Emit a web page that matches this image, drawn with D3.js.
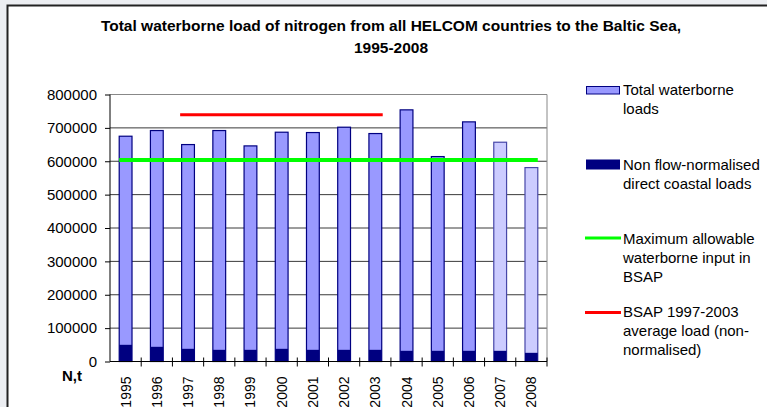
<!DOCTYPE html>
<html>
<head>
<meta charset="utf-8">
<script src="https://cdn.jsdelivr.net/npm/d3@7"></script>
<style>
  body { margin: 0; padding: 0; background: #eceef2; }
  svg { display: block; font-family: "Liberation Sans", Arial, sans-serif; }
</style>
</head>
<body>
<svg id="chart"></svg>
<script>
// data
let years = [1995,1996,1997,1998,1999,2000,2001,2002,2003,2004,2005,2006,2007,2008];
let totalLoads = [675000,692000,650000,692000,646000,687000,686000,702000,683000,754000,614000,718000,657000,581000];
let coastalLoads = [50000,44000,38000,35000,35000,38000,35000,35000,35000,32000,32000,32000,32000,26000];
let lightYears = [2007,2008];
let maxAllowable = 604000;
let bsapAverage = 739000;
let bsapYears = [1997,2003];
let yTicks = [0,100000,200000,300000,400000,500000,600000,700000,800000];
let titleLines = ["Total waterborne load of nitrogen from all HELCOM countries to the Baltic Sea,", "1995-2008"];

function getConfig(){
    let width = 767;
    let height = 407;
    let margin = { top: 94.5, left: 110, right: 220, bottom: 45.5 };
    let container = d3.select("#chart")
        .attr("width", width)
        .attr("height", height);
    return { width, height, margin, container };
}

function getScales(cfg){
    let { width, height, margin } = cfg;
    let xScale = d3.scaleBand()
        .domain(years)
        .range([margin.left, width - margin.right])
        .padding(0);
    let yScale = d3.scaleLinear()
        .domain([0, 800000])
        .range([height - margin.bottom, margin.top]);
    return { xScale, yScale };
}

function drawFrame(cfg){
    let { container, width, height } = cfg;
    container.append("rect")
        .attr("x", 0).attr("y", 0)
        .attr("width", width).attr("height", height)
        .attr("fill", "#eceef2");
    container.append("rect")
        .attr("x", 7.5).attr("y", 5.5)
        .attr("width", width + 10).attr("height", height + 10)
        .attr("fill", "#ffffff")
        .attr("stroke", "#222")
        .attr("stroke-width", 2);
    container.selectAll(".title")
        .data(titleLines)
        .enter().append("text")
        .attr("class", "title")
        .attr("x", 391)
        .attr("y", (d, i) => 31 + i * 22)
        .attr("text-anchor", "middle")
        .style("font-size", "15.5px")
        .style("font-weight", "bold")
        .text(d => d);
}

function drawGrid(scales, cfg){
    let { xScale, yScale } = scales;
    let { container } = cfg;
    let x0 = xScale.range()[0], x1 = xScale.range()[1];
    container.append("g")
        .selectAll("line")
        .data(yTicks.filter(d => d > 0))
        .enter().append("line")
        .attr("x1", x0).attr("x2", x1)
        .attr("y1", d => yScale(d)).attr("y2", d => yScale(d))
        .attr("stroke", d => d == 800000 ? "#888" : "#3a3a3a")
        .attr("stroke-width", 1);
    // right border of plot area
    container.append("line")
        .attr("x1", x1).attr("x2", x1)
        .attr("y1", yScale(800000)).attr("y2", yScale(0))
        .attr("stroke", "#888");
}

function drawBars(scales){
    let { xScale, yScale } = scales;
    let container = d3.select("#chart");
    let barW = xScale.bandwidth() * 0.41;
    let off = (xScale.bandwidth() - barW) / 2;
    let rows = years.map((y, i) => ({ year: y, total: totalLoads[i], coastal: coastalLoads[i] }));

    container.append("g")
        .selectAll("rect")
        .data(rows)
        .enter().append("rect")
        .attr("x", d => xScale(d.year) + off)
        .attr("y", d => yScale(d.total))
        .attr("width", barW)
        .attr("height", d => yScale(0) - yScale(d.total))
        .attr("fill", d => lightYears.includes(d.year) ? "#ccccff" : "#9999ff")
        .attr("stroke", d => lightYears.includes(d.year) ? "#4747a8" : "#000080")
        .attr("stroke-width", 1.2);

    container.append("g")
        .selectAll("rect")
        .data(rows)
        .enter().append("rect")
        .attr("x", d => xScale(d.year) + off)
        .attr("y", d => yScale(d.coastal))
        .attr("width", barW)
        .attr("height", d => yScale(0) - yScale(d.coastal))
        .attr("fill", "#000080");

    // reference lines
    container.append("line")
        .attr("x1", xScale(years[0]) + off)
        .attr("x2", xScale(years[years.length - 1]) + off + barW)
        .attr("y1", yScale(maxAllowable)).attr("y2", yScale(maxAllowable))
        .attr("stroke", "#00ff00")
        .attr("stroke-width", 4);
    container.append("line")
        .attr("x1", xScale(bsapYears[0]) + off - 1.5)
        .attr("x2", xScale(bsapYears[1]) + off + barW + 1)
        .attr("y1", yScale(bsapAverage)).attr("y2", yScale(bsapAverage))
        .attr("stroke", "#ff0000")
        .attr("stroke-width", 3);
}

function drawAxes(scales, cfg){
    let { xScale, yScale } = scales;
    let { container, margin } = cfg;
    let axisY = d3.axisLeft(yScale)
        .tickValues(yTicks)
        .tickSize(5)
        .tickPadding(8)
        .tickFormat(d3.format("d"));
    let gy = container.append("g")
        .attr("transform", `translate(${margin.left},0)`)
        .call(axisY);
    gy.select(".domain").attr("stroke", "#000").attr("d", `M0,${yScale(800000)}V${yScale(0)}`);
    gy.selectAll("text")
        .style("font-size", "15px")
        .style("font-family", "Liberation Sans, Arial, sans-serif")
        .attr("fill", "#000");

    // x axis line and crossing ticks at category boundaries
    let x0 = xScale.range()[0], x1 = xScale.range()[1];
    let y0 = yScale(0);
    container.append("line")
        .attr("x1", x0).attr("x2", x1)
        .attr("y1", y0).attr("y2", y0)
        .attr("stroke", "#000");
    container.append("g")
        .selectAll("line")
        .data(years.slice(1).concat(["end"]))
        .enter().append("line")
        .attr("x1", d => d == "end" ? x1 : xScale(d))
        .attr("x2", d => d == "end" ? x1 : xScale(d))
        .attr("y1", y0 - 4).attr("y2", y0 + 5)
        .attr("stroke", "#000");

    container.append("g")
        .selectAll("text")
        .data(years)
        .enter().append("text")
        .attr("transform", d => `translate(${xScale(d) + xScale.bandwidth() / 2 + 5},${y0 + 15}) rotate(-90)`)
        .attr("text-anchor", "end")
        .style("font-size", "14px")
        .text(d => d);

    container.append("text")
        .attr("x", 72).attr("y", 381)
        .attr("text-anchor", "middle")
        .style("font-size", "15px")
        .style("font-weight", "bold")
        .text("N,t");
}

function drawLegend(cfg){
    let { container } = cfg;
    let tx = 623;
    let items = [
        { type: "rect", fill: "#9999ff", stroke: "#000080", y: 86.5, h: 7.5, lines: ["Total waterborne", "loads"], base: 94.5 },
        { type: "rect", fill: "#000080", stroke: "#000080", y: 160, h: 9, lines: ["Non flow-normalised", "direct coastal loads"], base: 170 },
        { type: "line", color: "#00ff00", y: 238, lines: ["Maximum allowable", "waterborne input in", "BSAP"], base: 243.5 },
        { type: "line", color: "#ff0000", y: 312.5, lines: ["BSAP 1997-2003", "average load (non-", "normalised)"], base: 317 }
    ];
    items.forEach(it => {
        if (it.type == "rect") {
            container.append("rect")
                .attr("x", 586.5).attr("y", it.y)
                .attr("width", 33).attr("height", it.h)
                .attr("fill", it.fill)
                .attr("stroke", it.stroke);
        } else {
            container.append("line")
                .attr("x1", 585).attr("x2", 621)
                .attr("y1", it.y).attr("y2", it.y)
                .attr("stroke", it.color)
                .attr("stroke-width", 3);
        }
        container.append("g")
            .selectAll("text")
            .data(it.lines)
            .enter().append("text")
            .attr("x", tx)
            .attr("y", (d, i) => it.base + i * 19)
            .style("font-size", "15px")
            .text(d => d);
    });
}

let cfg = getConfig();
let scales = getScales(cfg);
drawFrame(cfg);
drawGrid(scales, cfg);
drawBars(scales);
drawAxes(scales, cfg);
drawLegend(cfg);
</script>
</body>
</html>
